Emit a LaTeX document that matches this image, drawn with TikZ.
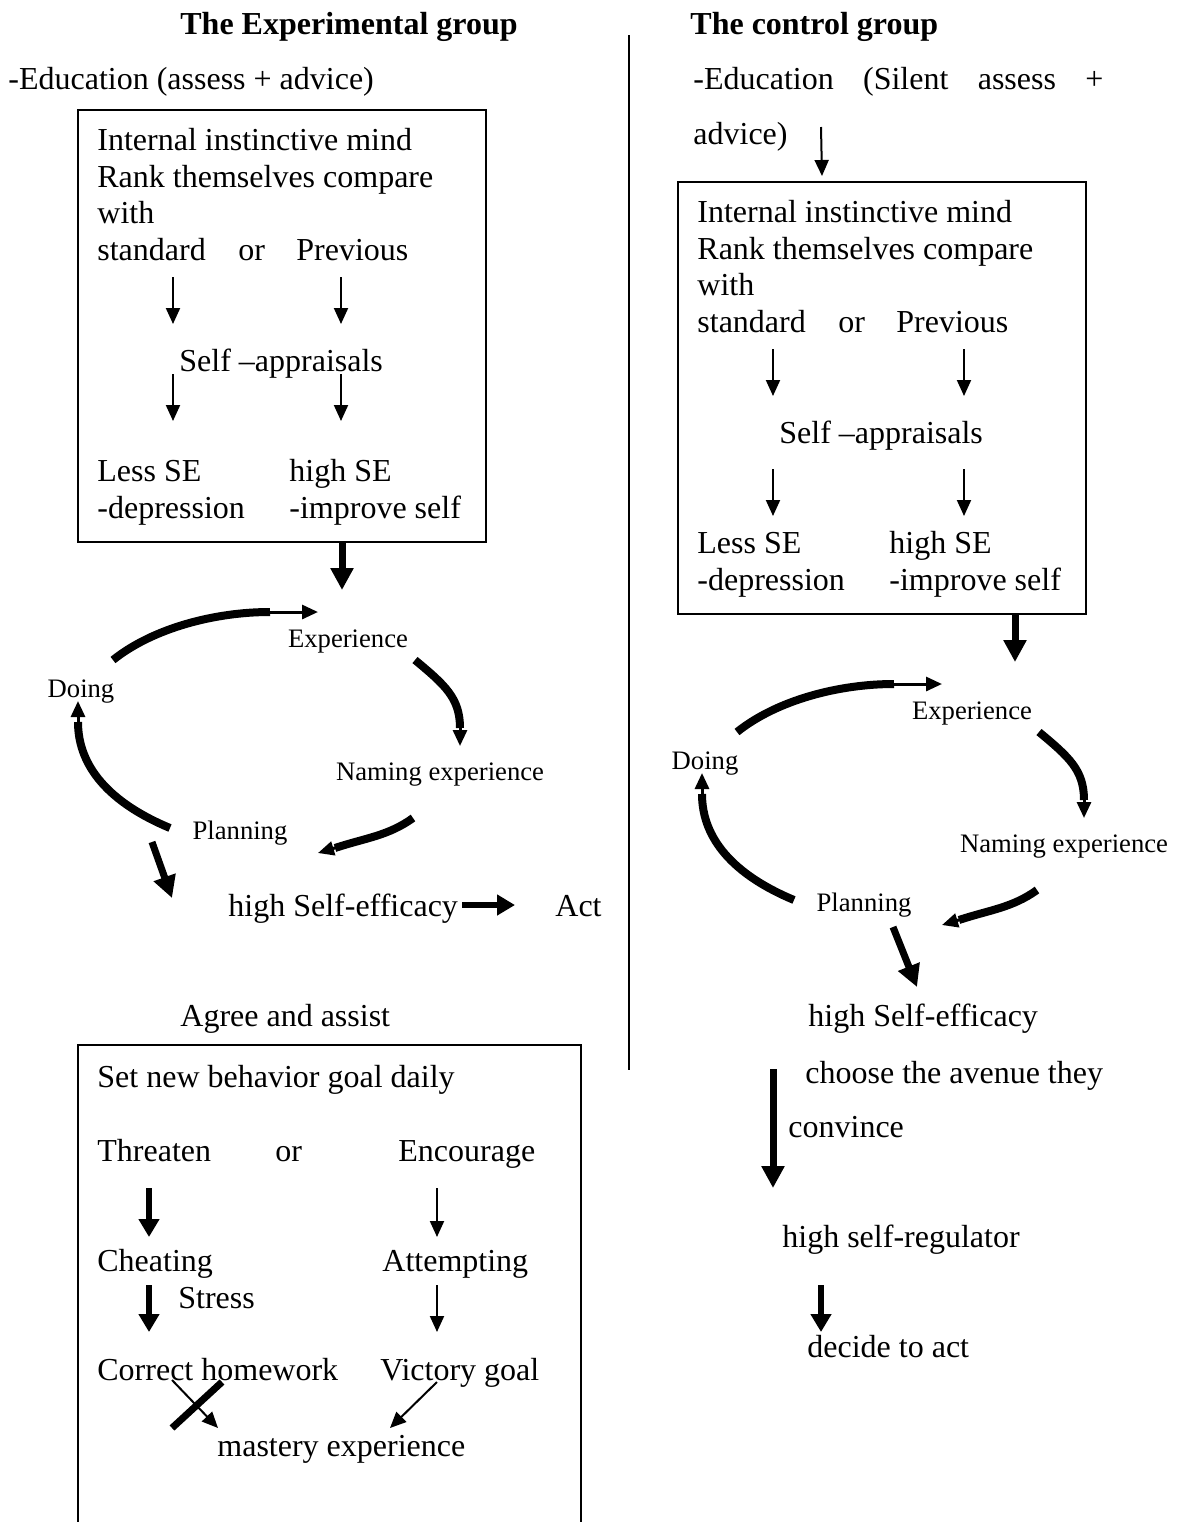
\documentclass[tikz,border=0pt]{standalone}
\usepackage{fontspec}
\setmainfont{Liberation Serif}
\usetikzlibrary{arrows.meta,calc}

\begin{document}
\begin{tikzpicture}[x=0.5pt,y=-0.5pt,
	txt/.style={anchor=base west,inner sep=0pt,font=\fontsize{16}{19}\selectfont},
	sml/.style={anchor=base,inner sep=0pt,font=\fontsize{13.33}{16}\selectfont},
	frame/.style={draw,line width=1pt,inner sep=0pt},
	thinarr/.style={line width=1pt,-{Triangle[length=8pt,width=7pt]}},
	midarr/.style={line width=3pt,-{Triangle[length=9pt,width=10pt]}},
	bigarr/.style={line width=3.5pt,-{Triangle[length=11pt,width=11pt]}},
	arcline/.style={line width=4pt},
	arctip/.style={line width=1.5pt,-{Triangle[length=8pt,width=7pt]}}]
	\useasboundingbox (0,0) rectangle (1187,1522);

	% headings and divider
	\node[txt,font=\fontsize{16}{19}\selectfont\bfseries] (headL) at (180,34) {The Experimental group};
	\node[txt,font=\fontsize{16}{19}\selectfont\bfseries] (headR) at (690,34) {The control group};
	\draw[line width=1pt] (629,35) -- (629,1070);
	\node[txt] (eduL) at (8,89) {-Education (assess + advice)};
	\node[txt] (eduR) at (693,89) {\makebox[205pt][s]{-Education (Silent assess +}};
	\node[txt] (adv) at (693,144) {advice)};

	% the two self-appraisal boxes
	\foreach \s/\bx/\by/\xb/\gap in {L/0/0/341/3,R/600/72/364/26}{
	\begin{scope}[shift={(\bx,\by)}]
		\node[frame,anchor=north west,minimum width=204pt,minimum height=216pt] (box\s) at (77,109) {};
		\node[txt] (mind\s) at (97,150) {Internal instinctive mind};
		\node[txt] (rank\s) at (97,187) {Rank themselves compare};
		\node[txt] (with\s) at (97,223) {with};
		\node[txt] (std\s) at (97,260) {standard};
		\node[txt] (or\s) at (238,260) {or};
		\node[txt] (prev\s) at (296,260) {Previous};
		\node[txt] (app\s) at (179,371) {Self --appraisals};
		\node[txt] (less\s) at (97,481) {Less SE};
		\node[txt] (dep\s) at (97,518) {-depression};
		\node[txt] (high\s) at (289,481) {high SE};
		\node[txt] (imp\s) at (289,518) {-improve self};
		\draw[thinarr] ($(std\s.base west)+(76,17)$) -- ++(0,47);
		\draw[thinarr] ($(std\s.base west)+(\xb-97,17)$) -- ++(0,47);
		\draw[thinarr] ($(app\s.base west)+(-6,\gap)$) -- ++(0,47);
		\draw[thinarr] ($(app\s.base west)+(\xb-179,\gap)$) -- ++(0,47);
	\end{scope}}
	\draw[thinarr] ($(adv.base west)+(128,-17)$) -- ($(boxR.north)+(-60,-5)$);
	\draw[bigarr] ($(boxL.south)+(60,0)$) -- ++(0,47);
	\draw[bigarr] ($(boxR.south)+(133,0)$) -- ++(0,47);

	% the two learning cycles
	\foreach \s/\cx/\cy in {L/0/0,R/624/72}{
	\begin{scope}[shift={(\cx,\cy)}]
		\node[sml] (exp\s) at (348,647) {Experience};
		\node[sml] (doing\s) at (81,697) {Doing};
		\node[sml] (name\s) at (440,780) {Naming experience};
		\node[sml] (plan\s) at (240,839) {Planning};
		\draw[arcline] ($(doing\s.base)+(32,-37)$) .. controls +(40,-32) and +(-55,0) .. ($(exp\s.base)+(-78,-35)$);
		\draw[arctip] ($(exp\s.base)+(-81,-35)$) -- ($(exp\s.base)+(-30,-35)$);
		\draw[arcline] ($(exp\s.base)+(67,13)$) .. controls +(30,25) and +(0,-30) .. ($(name\s.base)+(20,-52)$);
		\draw[arctip] ($(name\s.base)+(20,-55)$) -- ($(name\s.base)+(20,-34)$);
		\draw[arcline] ($(name\s.base)+(-27,38)$) .. controls +(-25,18) and +(30,-10) .. ($(plan\s.base)+(95,9)$);
		\draw[arctip] ($(plan\s.base)+(98,8)$) -- ($(plan\s.base)+(78,14)$);
		\draw[arcline] ($(plan\s.base)+(-70,-11)$) .. controls +(-60,-25) and +(0,45) .. ($(doing\s.base)+(-3,25)$);
		\draw[arctip] ($(doing\s.base)+(-3,28)$) -- ($(doing\s.base)+(-3,4)$);
	\end{scope}}

	% experimental group, lower part
	\node[txt] (hseL) at (228,916) {high Self-efficacy};
	\node[txt] (act) at (555,916) {Act};
	\draw[bigarr] ($(planL.base)+(-88,3)$) -- ($(planL.base)+(-68,59)$);
	\draw[midarr] ($(hseL.base west)+(234,-11)$) -- ($(act.base west)+(-40,-11)$);
	\node[txt] (agree) at (180,1026) {Agree and assist};
	\draw[frame] (78,1522) -- (78,1045) -- (581,1045) -- (581,1522);
	\node[txt] (goal) at (97,1087) {Set new behavior goal daily};
	\node[txt] (thr) at (97,1161) {Threaten};
	\node[txt] (orB) at (275,1161) {or};
	\node[txt] (enc) at (398,1161) {Encourage};
	\node[txt] (cheat) at (97,1271) {Cheating};
	\node[txt] (att) at (382,1271) {Attempting};
	\node[txt] (stress) at (178,1308) {Stress};
	\node[txt] (corr) at (97,1380) {Correct homework};
	\node[txt] (vic) at (380,1380) {Victory goal};
	\node[txt] (mast) at (217,1456) {mastery experience};
	\draw[midarr] ($(thr.base west)+(52,27)$) -- ++(0,49);
	\draw[thinarr] ($(enc.base west)+(39,27)$) -- ++(0,49);
	\draw[midarr] ($(cheat.base west)+(52,14)$) -- ++(0,47);
	\draw[thinarr] ($(att.base west)+(55,14)$) -- ++(0,47);
	\draw[thinarr] ($(corr.base west)+(75,0)$) -- ($(mast.base west)+(1,-28)$);
	\draw[line width=3.5pt] ($(corr.base west)+(75,48)$) -- ($(corr.base west)+(125,2)$);
	\draw[thinarr] ($(vic.base west)+(57,2)$) -- ($(mast.base west)+(173,-28)$);

	% control group, lower part
	\node[txt] (hseR) at (808,1026) {high Self-efficacy};
	\draw[bigarr] ($(planR.base)+(29,16)$) -- ($(planR.base)+(53,76)$);
	\node[txt] (cho) at (805,1083) {choose the avenue they};
	\node[txt] (conv) at (788,1137) {convince};
	\draw[bigarr] ($(cho.base west)+(-32,-14)$) -- ++(0,119);
	\node[txt] (reg) at (782,1247) {high self-regulator};
	\node[txt] (dec) at (807,1357) {decide to act};
	\draw[midarr] ($(reg.base west)+(39,38)$) -- ++(0,47);
\end{tikzpicture}
\end{document}
